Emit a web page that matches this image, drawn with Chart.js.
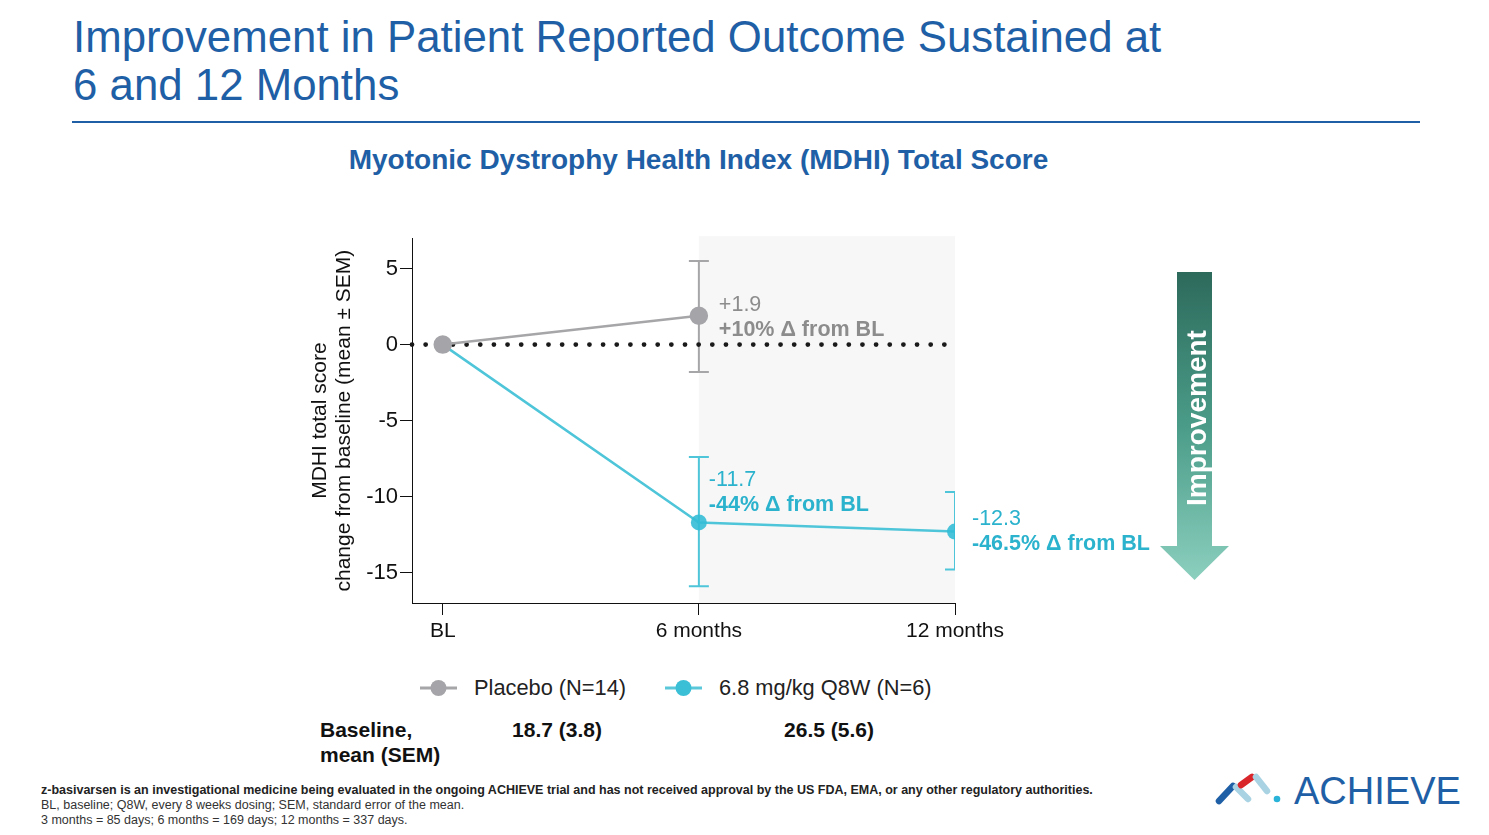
<!DOCTYPE html>
<html><head><meta charset="utf-8">
<script src="https://cdn.jsdelivr.net/npm/chart.js@4.4.1/dist/chart.umd.min.js"></script>
<style>
html,body{margin:0;padding:0;background:#fff;width:1489px;height:835px;overflow:hidden;font-family:"Liberation Sans",Arial,sans-serif;}
.abs{position:absolute;white-space:nowrap;}
#title{left:73px;top:13px;font-size:43.8px;line-height:48px;color:#1f5fa6;}
#rule{left:72px;top:121px;width:1348px;height:2px;background:#1f5fa6;}
#sub{left:0;width:1397px;text-align:center;top:144px;font-size:28px;font-weight:bold;color:#1f5fa6;}
#wrap{left:290px;top:223px;width:880px;height:432px;}
.leg{font-size:21.8px;color:#222;top:675px;}
.base{font-size:21px;font-weight:bold;color:#111;}
.foot{left:41px;font-family:"Liberation Sans Narrow","Liberation Sans",Arial,sans-serif;font-size:12.5px;color:#333;}
</style></head><body>
<div id="title" class="abs">Improvement in Patient Reported Outcome Sustained at<br>6 and 12 Months</div>
<div id="rule" class="abs"></div>
<div id="sub" class="abs">Myotonic Dystrophy Health Index (MDHI) Total Score</div>
<div id="wrap" class="abs"><canvas id="c" width="880" height="432"></canvas></div>

<svg class="abs" style="left:420px;top:676px" width="40" height="24"><line x1="0" y1="12" x2="37" y2="12" stroke="#a6a6a9" stroke-width="3"/><circle cx="18.5" cy="12" r="8" fill="#a5a5a9"/></svg>
<div class="abs leg" style="left:474px">Placebo (N=14)</div>
<svg class="abs" style="left:665px;top:676px" width="40" height="24"><line x1="0" y1="12" x2="37" y2="12" stroke="#5bc8da" stroke-width="3"/><circle cx="18.5" cy="12" r="8" fill="#3bbfd6"/></svg>
<div class="abs leg" style="left:719px">6.8 mg/kg Q8W (N=6)</div>

<div class="abs base" style="left:320px;top:717px;line-height:25px">Baseline,<br>mean (SEM)</div>
<div class="abs base" style="left:457px;width:200px;text-align:center;top:717px;line-height:25px" id="b1"></div>
<div class="abs base" style="left:729px;width:200px;text-align:center;top:717px;line-height:25px" id="b2"></div>

<svg class="abs" style="left:1150px;top:265px" width="90" height="325">
<defs><linearGradient id="g" x1="0" y1="0" x2="0" y2="1"><stop offset="0" stop-color="#2d6a5c"/><stop offset="0.5" stop-color="#4a9c88"/><stop offset="1" stop-color="#8ccfbf"/></linearGradient></defs>
<polygon points="27,7 62,7 62,281 79,281 44.5,315 10,281 27,281" fill="url(#g)"/>
<text transform="translate(55.5,153) rotate(-90)" text-anchor="middle" font-family="Liberation Sans, Arial" font-weight="bold" font-size="28" fill="#fff">Improvement</text>
</svg>

<div class="abs foot" style="top:783px;font-weight:bold;color:#222">z-basivarsen is an investigational medicine being evaluated in the ongoing ACHIEVE trial and has not received approval by the US FDA, EMA, or any other regulatory authorities.</div>
<div class="abs foot" style="top:798px">BL, baseline; Q8W, every 8 weeks dosing; SEM, standard error of the mean.</div>
<div class="abs foot" style="top:813px">3 months = 85 days; 6 months = 169 days; 12 months = 337 days.</div>

<svg class="abs" style="left:1210px;top:768px" width="80" height="45">
<line x1="9" y1="33" x2="23" y2="18" stroke="#1f5fa6" stroke-width="6.5" stroke-linecap="round"/>
<line x1="26" y1="19" x2="38" y2="31" stroke="#a9d3e3" stroke-width="6.5" stroke-linecap="round"/>
<line x1="31" y1="17" x2="42" y2="9" stroke="#d9262b" stroke-width="6.5" stroke-linecap="round"/>
<line x1="46" y1="9" x2="57" y2="23" stroke="#a9d3e3" stroke-width="6.5" stroke-linecap="round"/>
<circle cx="67" cy="31" r="3.3" fill="#2ab3d8"/>
</svg>
<div class="abs" style="left:1294px;top:769px;font-size:38px;color:#1f5fa6;line-height:44px">ACHIEVE</div>

<script>
// ---- data ----
const categories = ['BL', '6 months', '12 months'];
const seriesNames = ['Placebo (N=14)', '6.8 mg/kg Q8W (N=6)'];
const placeboMean = [0, 1.9];
const placeboLow = [null, -1.8];
const placeboHigh = [null, 5.5];
const drugMean = [0, -11.7, -12.3];
const drugLow = [null, -15.9, -14.8];
const drugHigh = [null, -7.4, -9.7];
const yTicks = [5, 0, -5, -10, -15];
const baselineValues = ['18.7 (3.8)', '26.5 (5.6)'];
const placeboNotes = [null, ['+1.9', '+10% Δ from BL']];
const drugNotes = [null, ['-11.7', '-44% Δ from BL'], ['-12.3', '-46.5% Δ from BL']];

document.getElementById('b1').textContent = baselineValues[0];
document.getElementById('b2').textContent = baselineValues[1];

const GRAY = '#a6a6a9', CYAN = '#4ec5d9';
const GRAYTXT = '#8c8c8c', CYANTXT = '#2bb2cd';

const toPts = arr => arr.map((v, i) => ({x: i, y: v}));

const bgPlugin = {
  id: 'bg',
  beforeDatasetsDraw(chart) {
    const {ctx, chartArea: a, scales: {x, y}} = chart;
    ctx.save();
    ctx.fillStyle = '#f7f7f7';
    const x1 = x.getPixelForValue(1);
    ctx.fillRect(x1, a.top - 2, a.right - x1, a.bottom - a.top + 2);
    const bars = [[placeboMean, placeboLow, placeboHigh, GRAY], [drugMean, drugLow, drugHigh, CYAN]];
    ctx.beginPath(); ctx.rect(a.left, a.top - 5, a.right - a.left, a.bottom - a.top + 5); ctx.clip();
    bars.forEach(([m, lo, hi, col]) => {
      ctx.strokeStyle = col; ctx.lineWidth = 2;
      m.forEach((v, i) => {
        if (lo[i] == null) return;
        const px = x.getPixelForValue(i), pl = y.getPixelForValue(lo[i]), ph = y.getPixelForValue(hi[i]);
        ctx.beginPath();
        ctx.moveTo(px, pl); ctx.lineTo(px, ph);
        ctx.moveTo(px - 10, pl); ctx.lineTo(px + 10, pl);
        ctx.moveTo(px - 10, ph); ctx.lineTo(px + 10, ph);
        ctx.stroke();
      });
    });
    ctx.restore();
    ctx.save();
    ctx.strokeStyle = '#1a1a1a'; ctx.lineWidth = 4.8; ctx.lineCap = 'round';
    ctx.setLineDash([0, 13.65]);
    const y0 = y.getPixelForValue(0);
    ctx.beginPath(); ctx.moveTo(a.left, y0); ctx.lineTo(a.right, y0); ctx.stroke();
    ctx.restore();
  },
  afterDatasetsDraw(chart) {
    const {ctx, scales: {x, y}} = chart;
    ctx.save();
    ctx.textAlign = 'left'; ctx.textBaseline = 'middle';
    const drawNotes = (notes, means, col, dx, dy) => {
      notes.forEach((n, i) => {
        if (!n) return;
        const px = x.getPixelForValue(i) + dx[i];
        const py = y.getPixelForValue(means[i]) + dy[i];
        ctx.fillStyle = col;
        ctx.font = '21.5px "Liberation Sans", Arial, sans-serif';
        ctx.fillText(n[0], px, py);
        ctx.font = 'bold 21.5px "Liberation Sans", Arial, sans-serif';
        ctx.fillText(n[1], px, py + 25);
      });
    };
    drawNotes(placeboNotes, placeboMean, GRAYTXT, [0, 20], [0, -11]);
    drawNotes(drugNotes, drugMean, CYANTXT, [0, 10, 17], [0, -42, -12]);
    ctx.restore();
  }
};

new Chart(document.getElementById('c'), {
  type: 'line',
  data: {
    datasets: [
      {label: seriesNames[0], data: toPts(placeboMean), borderColor: GRAY, backgroundColor: '#a5a5a9',
       pointBackgroundColor: '#a5a5a9', pointBorderColor: '#a5a5a9', borderWidth: 2.5, pointRadius: 8, clip: 0},
      {label: seriesNames[1], data: toPts(drugMean), borderColor: CYAN, backgroundColor: 'rgba(52,188,214,0.9)',
       pointBackgroundColor: 'rgba(52,188,214,0.9)', pointBorderColor: 'rgba(52,188,214,0)', borderWidth: 2.5, pointRadius: 8, clip: 0}
    ]
  },
  options: {
    responsive: false, animation: false,
    layout: {padding: {top: 0, right: 215, left: 0, bottom: 0}},
    plugins: {legend: {display: false}, tooltip: {enabled: false}},
    scales: {
      x: {
        type: 'linear', min: -0.12, max: 2,
        afterBuildTicks: s => { s.ticks = categories.map((c, i) => ({value: i})); },
        afterFit: s => { s.height = 52; },
        ticks: {callback: v => categories[v], color: '#111', font: {size: 21, family: '"Liberation Sans", Arial'}, padding: 4, maxRotation: 0, autoSkip: false},
        grid: {drawOnChartArea: false, tickLength: 12, color: '#111', tickWidth: 1},
        border: {color: '#111', width: 1}
      },
      y: {
        min: -17, max: 7,
        afterBuildTicks: s => { s.ticks = yTicks.map(v => ({value: v})); },
        afterFit: s => { s.width = 122; },
        ticks: {color: '#111', font: {size: 22, family: '"Liberation Sans", Arial'}, padding: 2},
        grid: {drawOnChartArea: false, tickLength: 12, color: '#111', tickWidth: 1},
        border: {color: '#111', width: 1},
        title: {display: true, text: ['MDHI total score', 'change from baseline (mean ± SEM)'], color: '#111',
                font: {size: 21, family: '"Liberation Sans", Arial', lineHeight: 1.15}, padding: {top: 18, bottom: 0}}
      }
    }
  },
  plugins: [bgPlugin]
});
</script>
</body></html>
